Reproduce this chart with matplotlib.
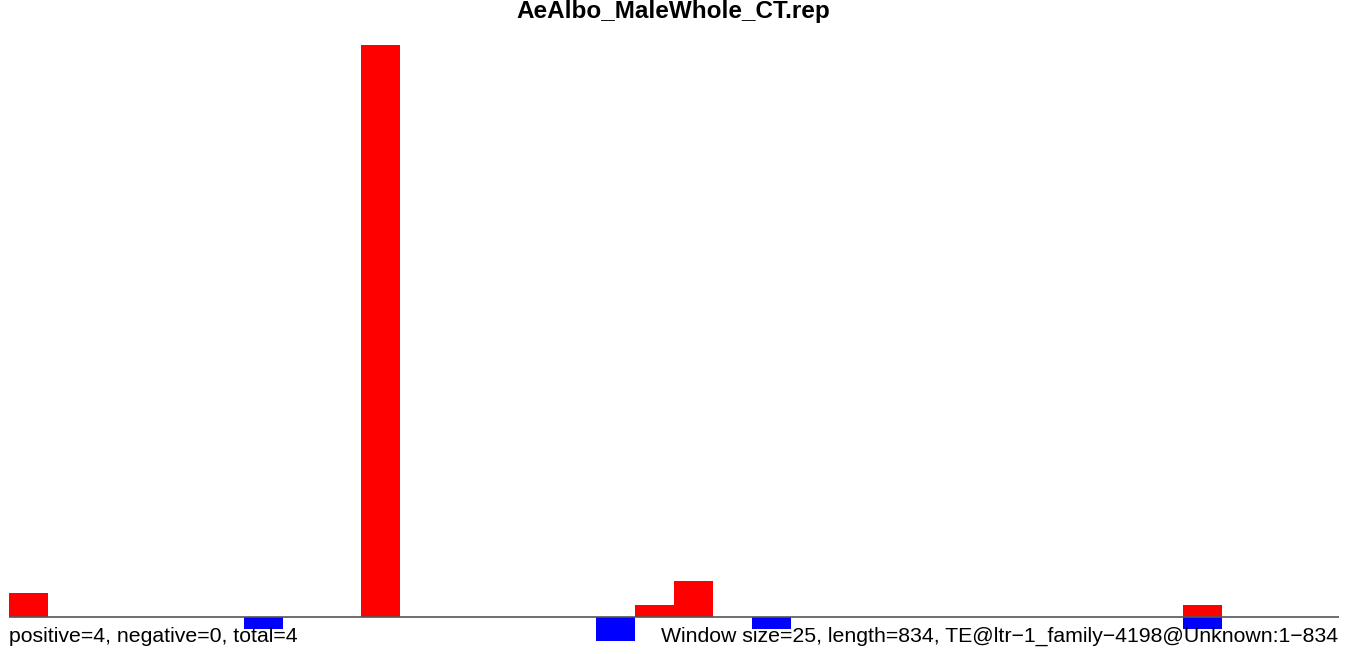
import matplotlib
matplotlib.use("Agg")
import matplotlib.pyplot as plt

# Data: window start positions (bp) and read counts
window_size = 25
seq_length = 834
pos_starts = [0, 225, 400, 425, 750]
pos_counts = [2, 48, 1, 3, 1]
neg_starts = [150, 375, 475, 750]
neg_counts = [1, 2, 1, 1]

title = "AeAlbo_MaleWhole_CT.rep"
left_note = "positive=4, negative=0, total=4"
right_note = "Window size=25, length=834, TE@ltr\u22121_family\u22124198@Unknown:1\u2212834"

W, H = 1350, 654
fig = plt.figure(figsize=(W / 100, H / 100), dpi=100)
ax = fig.add_axes([9 / W, (H - 641) / H, 1330 / W, (641 - 45) / H])

ax.bar(pos_starts, pos_counts, width=window_size, align="edge", color="#ff0000", linewidth=0)
ax.bar(neg_starts, [-c for c in neg_counts], width=window_size, align="edge", color="#0000ff", linewidth=0)
ax.axhline(0, color="#555555", linewidth=1.2, zorder=3)

ax.set_xlim(0, 34 * window_size)
ax.set_ylim(-2, 48)
ax.axis("off")

font = "Liberation Sans"
fig.text(673 / W, 1 - 18 / H, title, ha="center", va="baseline",
         fontsize=17.5, fontweight="bold", family=font)
fig.text(9 / W, 1 - 641.5 / H, left_note, ha="left", va="baseline",
         fontsize=15.3, family=font, zorder=10)
fig.text(1338 / W, 1 - 641.5 / H, right_note, ha="right", va="baseline",
         fontsize=15.3, family=font, zorder=10)

fig.savefig("out.png", dpi=100)
